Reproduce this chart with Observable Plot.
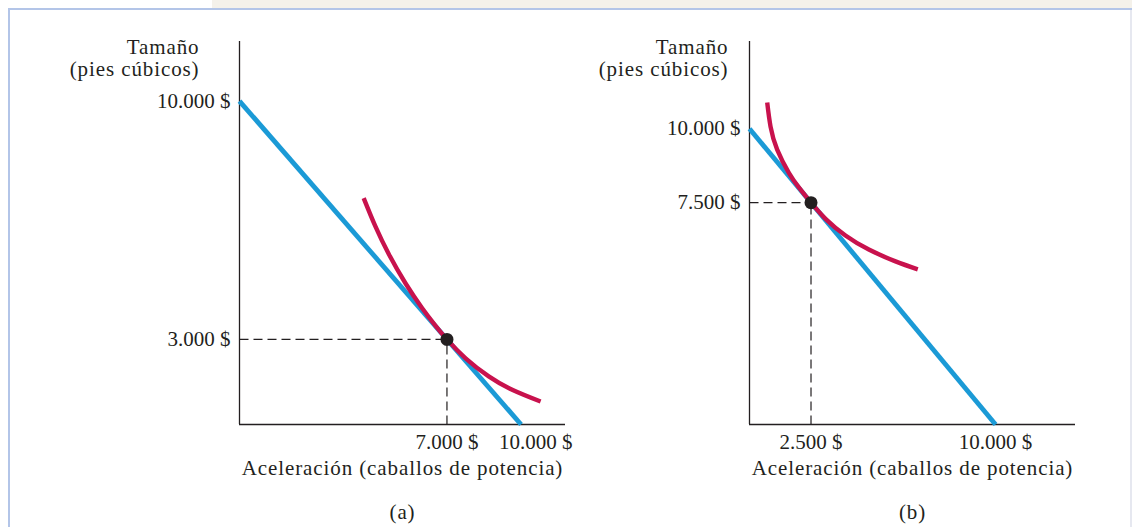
<!DOCTYPE html>
<html>
<head>
<meta charset="utf-8">
<script src="https://cdn.jsdelivr.net/npm/d3@7"></script>
<script src="https://cdn.jsdelivr.net/npm/@observablehq/plot@0.6"></script>
<style>
  html, body { margin: 0; padding: 0; background: #ffffff; }
  #page { position: relative; width: 1132px; height: 527px; overflow: hidden; background: #fff; }
  #strip { position: absolute; left: 212px; top: 0; width: 920px; height: 8px; background: #f4f1ea; }
  #btop { position: absolute; left: 8px; top: 8px; width: 1124px; height: 2px; background: #b3c5e8; }
  #bleft { position: absolute; left: 8px; top: 8px; width: 2px; height: 519px; background: #b3c5e8; }
  #bright { position: absolute; left: 1130px; top: 10px; width: 2px; height: 517px; background: #e6e8f0; }
  .panel { position: absolute; top: 0; }
  #pa { left: 0; }
  #pb { left: 580px; }
</style>
</head>
<body>
<div id="page">
  <div id="strip"></div>
  <div id="btop"></div>
  <div id="bleft"></div>
  <div id="bright"></div>
  <div id="pa" class="panel"></div>
  <div id="pb" class="panel"></div>
</div>
<script>
// ---------- Data ----------
const yTitle = "Tamaño\n(pies cúbicos)";
const xTitle = "Aceleración (caballos de potencia)";

// Panel (a)
const aCaption = "(a)";
const aXDomain = [0, 11000];
const aYDomain = [500, 11750];
const aXTicks = [7000, 10000];
const aXTickLabels = ["7.000 $", "10.000 $"];
const aYTicks = [3000, 10000];
const aYTickLabels = ["3.000 $", "10.000 $"];
const aBudgetX = [0, 9500];
const aBudgetY = [10000, 500];
const aCurveX = [4190, 4590, 5040, 5600, 6165, 6610, 7000, 7630, 8410, 9200, 10160];
const aCurveY = [7150, 6310, 5500, 4650, 3915, 3405, 3000, 2445, 1915, 1520, 1175];
const aOptX = [7000];
const aOptY = [3000];

// Panel (b)
const bCaption = "(b)";
const bXDomain = [0, 13250];
const bYDomain = [0, 12950];
const bXTicks = [2500, 10000];
const bXTickLabels = ["2.500 $", "10.000 $"];
const bYTicks = [7500, 10000];
const bYTickLabels = ["7.500 $", "10.000 $"];
const bBudgetX = [0, 10000];
const bBudgetY = [10000, 0];
const bCurveX = [720, 855, 1125, 1600, 2005, 2500, 3090, 3900, 4850, 5935, 6840];
const bCurveY = [10885, 10075, 9295, 8510, 8015, 7500, 6955, 6390, 5915, 5515, 5245];
const bOptX = [2500];
const bOptY = [7500];

// ---------- Styling ----------
const fontFamily = "'Liberation Serif', 'DejaVu Serif', serif";
const blue = "#1b9ad6";
const red = "#c8124d";
const ink = "#231f20";
const fs = 21;

function zip(xs, ys) { return xs.map((x, i) => ({x, y: ys[i]})); }

function panel(cfg) {
  const budget = zip(cfg.budgetX, cfg.budgetY);
  const curve = zip(cfg.curveX, cfg.curveY);
  const opt = zip(cfg.optX, cfg.optY);
  const xLab = new Map(cfg.xTicks.map((t, i) => [t, cfg.xTickLabels[i]]));
  const yLab = new Map(cfg.yTicks.map((t, i) => [t, cfg.yTickLabels[i]]));
  const x0 = cfg.xDomain[0], y0 = cfg.yDomain[0];
  const svg = Plot.plot({
    width: cfg.width, height: 527,
    marginLeft: cfg.marginLeft, marginRight: cfg.marginRight,
    marginTop: 41, marginBottom: 103,
    x: {domain: cfg.xDomain, axis: null},
    y: {domain: cfg.yDomain, axis: null},
    style: {fontFamily, fontSize: fs + "px", color: ink, background: "transparent", overflow: "visible"},
    marks: [
      // dashed guides
      Plot.link(opt, {x1: () => x0, y1: "y", x2: "x", y2: "y", stroke: ink, strokeWidth: 1.2, strokeDasharray: "9,5"}),
      Plot.link(opt, {x1: "x", y1: () => y0, x2: "x", y2: "y", stroke: ink, strokeWidth: 1.2, strokeDasharray: "9,5"}),
      // axis lines
      Plot.ruleX([x0], {stroke: ink, strokeWidth: 1.3}),
      Plot.ruleY([y0], {stroke: ink, strokeWidth: 1.3}),
      // tick labels
      Plot.axisX(cfg.xTicks, {tickSize: 0, tickPadding: 10, tickFormat: d => xLab.get(d), label: null, fontSize: fs}),
      Plot.axisY(cfg.yTicks, {tickSize: 0, tickPadding: 9, tickFormat: d => yLab.get(d), label: null, fontSize: fs}),
      // budget line
      Plot.line(budget, {x: "x", y: "y", stroke: blue, strokeWidth: 4.8, strokeLinecap: "butt"}),
      // indifference curve
      Plot.line(curve, {x: "x", y: "y", stroke: red, strokeWidth: 4.4, curve: "natural", strokeLinecap: "butt"}),
      // optimum point
      Plot.dot(opt, {x: "x", y: "y", r: 6.5, fill: ink, stroke: null}),
      // titles
      Plot.text([yTitle], {frameAnchor: "top-left", textAnchor: "end", lineAnchor: "top", dx: cfg.yTitleDx, dy: -3, lineHeight: 1.05, fontSize: fs, fill: ink}),
      Plot.text([xTitle], {frameAnchor: "bottom", lineAnchor: "middle", dy: 44, fontSize: fs, fill: ink}),
      Plot.text([cfg.caption], {frameAnchor: "bottom", lineAnchor: "middle", dy: 88, fontSize: fs, fill: ink})
    ]
  });
  d3.select(svg).selectAll("g[aria-label='text'] text").style("letter-spacing", "0.9px");
  return svg;
}

document.getElementById("pa").append(panel({
  width: 580, marginLeft: 239, marginRight: 15,
  xDomain: aXDomain, yDomain: aYDomain,
  xTicks: aXTicks, xTickLabels: aXTickLabels, yTicks: aYTicks, yTickLabels: aYTickLabels,
  budgetX: aBudgetX, budgetY: aBudgetY, curveX: aCurveX, curveY: aCurveY,
  optX: aOptX, optY: aOptY, caption: aCaption, yTitleDx: -40
}));
document.getElementById("pb").append(panel({
  width: 552, marginLeft: 169, marginRight: 57,
  xDomain: bXDomain, yDomain: bYDomain,
  xTicks: bXTicks, xTickLabels: bXTickLabels, yTicks: bYTicks, yTickLabels: bYTickLabels,
  budgetX: bBudgetX, budgetY: bBudgetY, curveX: bCurveX, curveY: bCurveY,
  optX: bOptX, optY: bOptY, caption: bCaption, yTitleDx: -21
}));
</script>
</body>
</html>
